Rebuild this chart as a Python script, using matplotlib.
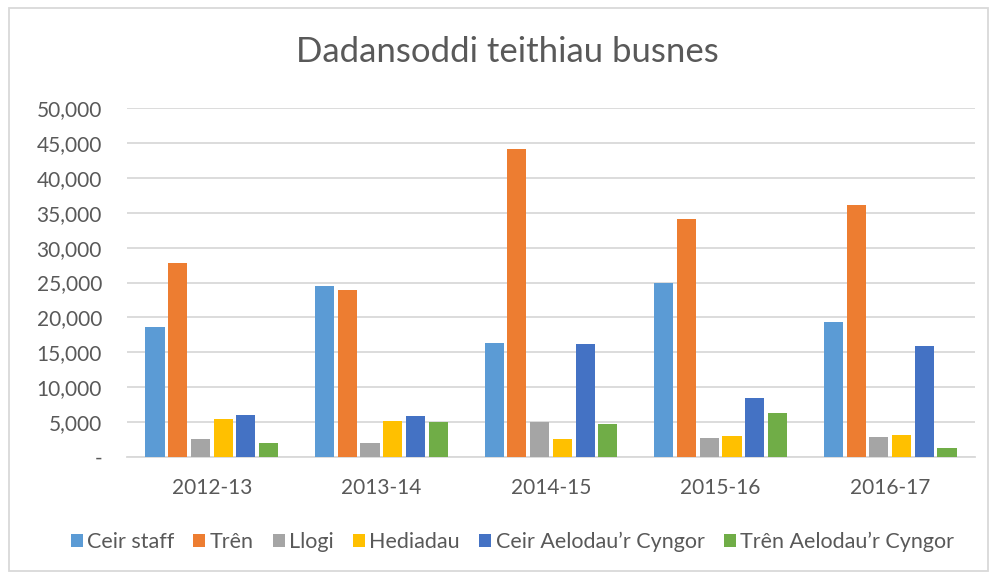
import matplotlib.pyplot as plt
import numpy as np
from matplotlib.patches import Rectangle
from matplotlib.ticker import FuncFormatter

plt.rcParams["font.family"] = ["Lato", "DejaVu Sans"]

years = ["2012-13", "2013-14", "2014-15", "2015-16", "2016-17"]
series_names = ["Ceir staff", "Trên", "Llogi", "Hediadau",
                "Ceir Aelodau\u2019r Cyngor", "Trên Aelodau\u2019r Cyngor"]
ceir_staff = [18600, 24500, 16400, 25000, 19300]
tren = [27800, 23900, 44100, 34100, 36100]
llogi = [2600, 2000, 4950, 2750, 2900]
hediadau = [5400, 5200, 2550, 3000, 3150]
ceir_aelodau = [6050, 5900, 16200, 8450, 15850]
tren_aelodau = [1950, 4950, 4700, 6250, 1350]

colors = ["#5B9BD5", "#ED7D31", "#A5A5A5", "#FFC000", "#4472C4", "#70AD47"]
values = [ceir_staff, tren, llogi, hediadau, ceir_aelodau, tren_aelodau]

fig = plt.figure(figsize=(9.91, 5.72), dpi=100)
ax = fig.add_axes([127 / 991, 1 - 457 / 572, 848 / 991, 349 / 572])

x = np.arange(len(years))
pitch = 0.134
for i, (name, vals) in enumerate(zip(series_names, values)):
    offs = (i - 2.5) * pitch
    ax.bar(x + offs, vals, width=pitch * 0.84, color=colors[i], label=name,
           zorder=3)

ax.set_xlim(-0.5, len(years) - 0.5)
ax.set_ylim(0, 50000)
ax.set_yticks(np.arange(0, 50001, 5000))
ax.yaxis.set_major_formatter(FuncFormatter(lambda v, p: "-" if v == 0 else f"{int(v):,}"))
ax.set_xticks(x)
ax.set_xticklabels(years)
ax.grid(axis="y", color="#d9d9d9", linewidth=1.3, zorder=0)
for s in ["top", "right", "left"]:
    ax.spines[s].set_visible(False)
ax.spines["bottom"].set_color("#d9d9d9")
ax.spines["bottom"].set_linewidth(1.3)
ax.tick_params(axis="both", length=0, labelsize=15, labelcolor="#595959")
ax.tick_params(axis="y", pad=18)
ax.tick_params(axis="x", pad=15)

fig.text(0.512, 1 - 52 / 572, "Dadansoddi teithiau busnes", ha="center", va="center",
         fontsize=25, color="#595959")

handles, labels = ax.get_legend_handles_labels()
fig.legend(handles, labels, loc="center", bbox_to_anchor=(0.517, 1 - 542 / 572),
           ncol=6, frameon=False, fontsize=15.5, labelcolor="#595959",
           handlelength=0.55, handleheight=0.55, handletextpad=0.2, columnspacing=0.9)

fig.patches.append(Rectangle((9 / 991, 0.002), 979 / 991, 1 - 8 / 572 - 0.002,
                             transform=fig.transFigure, fill=False,
                             edgecolor="#d9d9d9", linewidth=1.3))

fig.savefig("out.png", dpi=100)
